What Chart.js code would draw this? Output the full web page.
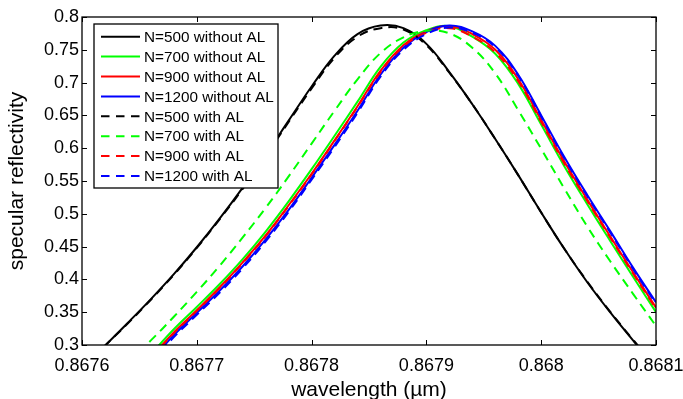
<!DOCTYPE html>
<html>
<head>
<meta charset="utf-8">
<script src="https://cdn.jsdelivr.net/npm/chart.js@4/dist/chart.umd.min.js"></script>
<style>
  html, body { margin: 0; padding: 0; background: #fff; }
  #wrap { width: 683px; height: 399px; }
</style>
</head>
<body>
<div id="wrap"><canvas id="c" width="683" height="399"></canvas></div>
<script>
// ---- data ----
const wavelengths = [0.8676, 0.86762, 0.86764, 0.86766, 0.86768, 0.8677, 0.86772, 0.86774, 0.86776, 0.86778,
  0.8678, 0.86782, 0.86784, 0.86786, 0.86788, 0.8679, 0.86792, 0.86794, 0.86796, 0.86798,
  0.868, 0.86802, 0.86804, 0.86806, 0.86808, 0.8681];

const n500NoAL = [0.265, 0.299, 0.334, 0.370, 0.408, 0.449, 0.493, 0.540, 0.590, 0.642, 0.694, 0.741, 0.774,
  0.787, 0.783, 0.759, 0.716, 0.667, 0.614, 0.559, 0.502, 0.447, 0.396, 0.350, 0.307, 0.266];
const n700NoAL = [null, null, null, 0.286, 0.324, 0.358, 0.393, 0.431, 0.473, 0.519, 0.568, 0.619, 0.671,
  0.724, 0.761, 0.780, 0.786, 0.770, 0.744, 0.698, 0.636, 0.573, 0.515, 0.459, 0.404, 0.350];
const n900NoAL = [null, null, null, 0.281, 0.319, 0.353, 0.388, 0.426, 0.467, 0.513, 0.561, 0.612, 0.664,
  0.718, 0.757, 0.778, 0.786, 0.774, 0.750, 0.705, 0.643, 0.580, 0.522, 0.466, 0.411, 0.357];
const n1200NoAL = [null, null, null, 0.276, 0.315, 0.349, 0.383, 0.420, 0.461, 0.506, 0.555, 0.605, 0.657,
  0.712, 0.753, 0.777, 0.787, 0.778, 0.756, 0.712, 0.650, 0.587, 0.529, 0.474, 0.418, 0.365];
const n500AL = [0.265, 0.299, 0.333, 0.369, 0.407, 0.448, 0.492, 0.538, 0.588, 0.640, 0.691, 0.738, 0.770,
  0.783, 0.781, 0.757, 0.715, 0.667, 0.614, 0.559, 0.502, 0.447, 0.397, 0.351, 0.308, 0.267];
const n700AL = [null, null, 0.273, 0.307, 0.343, 0.381, 0.421, 0.464, 0.509, 0.557, 0.607, 0.657, 0.705,
  0.745, 0.769, 0.779, 0.775, 0.753, 0.714, 0.658, 0.599, 0.539, 0.481, 0.428, 0.378, 0.329];
const n900AL = [null, null, null, 0.280, 0.318, 0.352, 0.387, 0.425, 0.466, 0.512, 0.560, 0.611, 0.663,
  0.716, 0.755, 0.776, 0.783, 0.770, 0.746, 0.702, 0.640, 0.577, 0.520, 0.464, 0.409, 0.355];
const n1200AL = [null, null, null, 0.273, 0.312, 0.346, 0.380, 0.417, 0.458, 0.503, 0.552, 0.602, 0.654,
  0.709, 0.750, 0.774, 0.784, 0.776, 0.754, 0.710, 0.648, 0.585, 0.527, 0.472, 0.416, 0.363];

const seriesLabels = ['N=500 without AL', 'N=700 without AL', 'N=900 without AL', 'N=1200 without AL',
  'N=500 with AL', 'N=700 with AL', 'N=900 with AL', 'N=1200 with AL'];
const seriesValues = [n500NoAL, n700NoAL, n900NoAL, n1200NoAL, n500AL, n700AL, n900AL, n1200AL];
const seriesColors = ['#000000', '#00ff00', '#ff0000', '#0000ff', '#000000', '#00ff00', '#ff0000', '#0000ff'];
const seriesDashed = [false, false, false, false, true, true, true, true];

const xTickValues = [0.8676, 0.8677, 0.8678, 0.8679, 0.868, 0.8681];
const xTickLabels = ['0.8676', '0.8677', '0.8678', '0.8679', '0.868', '0.8681'];
const yTickValues = [0.3, 0.35, 0.4, 0.45, 0.5, 0.55, 0.6, 0.65, 0.7, 0.75, 0.8];
const yTickLabels = ['0.3', '0.35', '0.4', '0.45', '0.5', '0.55', '0.6', '0.65', '0.7', '0.75', '0.8'];

const DASH = [9, 6];
const FONT = '"Liberation Sans", Arial, Helvetica, sans-serif';

const datasets = seriesValues.map((vals, i) => ({
  label: seriesLabels[i],
  data: wavelengths.map((w, j) => ({ x: w, y: vals[j] })),
  borderColor: seriesColors[i],
  backgroundColor: seriesColors[i],
  borderWidth: 2,
  borderDash: seriesDashed[i] ? DASH : [],
  pointRadius: 0,
  fill: false,
  tension: 0.4,
  spanGaps: false,
  clip: 0,
  order: seriesValues.length - i
}));

function zeroPad(s) { s.paddingLeft = 0; s.paddingRight = 0; s.paddingTop = 0; s.paddingBottom = 0; }

const frameAndLegend = {
  id: 'frameAndLegend',
  afterDraw(chart) {
    const ctx = chart.ctx;
    const a = chart.chartArea;
    const xs = chart.scales.x, ys = chart.scales.y;
    ctx.save();
    ctx.strokeStyle = '#000';
    ctx.lineWidth = 1.3;
    ctx.strokeRect(a.left, a.top, a.right - a.left, a.bottom - a.top);
    ctx.lineWidth = 1;
    const TL = 5;
    ctx.beginPath();
    xTickValues.forEach(v => {
      const p = Math.round(xs.getPixelForValue(v)) + 0.5;
      ctx.moveTo(p, a.bottom); ctx.lineTo(p, a.bottom - TL);
      ctx.moveTo(p, a.top); ctx.lineTo(p, a.top + TL);
    });
    yTickValues.forEach(v => {
      const p = Math.round(ys.getPixelForValue(v)) + 0.5;
      ctx.moveTo(a.left, p); ctx.lineTo(a.left + TL, p);
      ctx.moveTo(a.right, p); ctx.lineTo(a.right - TL, p);
    });
    ctx.stroke();

    // legend box inside the plot area
    const bx = 94, by = 24, bw = 184, bh = 164;
    ctx.fillStyle = '#fff';
    ctx.fillRect(bx, by, bw, bh);
    ctx.lineWidth = 1.3;
    ctx.strokeStyle = '#000';
    ctx.strokeRect(bx, by, bw, bh);
    ctx.font = '15.3px ' + FONT;
    ctx.textBaseline = 'middle';
    ctx.textAlign = 'left';
    chart.data.datasets.forEach((ds, i) => {
      const yc = 36.7 + i * 19.9;
      ctx.strokeStyle = ds.borderColor;
      ctx.lineWidth = 2;
      ctx.setLineDash(ds.borderDash.length ? [8.5, 6.5] : []);
      ctx.beginPath();
      ctx.moveTo(101, yc); ctx.lineTo(140, yc);
      ctx.stroke();
      ctx.setLineDash([]);
      ctx.fillStyle = '#000';
      ctx.fillText(ds.label, 144, yc + 1);
    });
    ctx.restore();
  }
};

new Chart(document.getElementById('c'), {
  type: 'line',
  data: { datasets },
  options: {
    responsive: false,
    animation: false,
    devicePixelRatio: 1,
    layout: { padding: { left: 0, right: 27, top: 17, bottom: 0 } },
    plugins: { legend: { display: false }, tooltip: { enabled: false } },
    scales: {
      x: {
        type: 'linear',
        min: 0.8676, max: 0.8681,
        afterBuildTicks: s => { s.ticks = xTickValues.map(v => ({ value: v })); },
        afterFit: s => { s.height = 54; zeroPad(s); },
        grid: { display: false, drawTicks: false },
        border: { display: false },
        ticks: {
          autoSkip: false, maxRotation: 0, padding: 10,
          color: '#000', font: { size: 18, family: FONT },
          callback: (v, i) => xTickLabels[i]
        },
        title: { display: true, text: 'wavelength (\u00b5m)', color: '#000', font: { size: 21, family: FONT }, padding: { top: 0, bottom: -4 } }
      },
      y: {
        min: 0.3, max: 0.8,
        afterBuildTicks: s => { s.ticks = yTickValues.map(v => ({ value: v })); },
        afterFit: s => { s.width = 82; zeroPad(s); },
        grid: { display: false, drawTicks: false },
        border: { display: false },
        ticks: {
          autoSkip: false, padding: 3,
          color: '#000', font: { size: 18, family: FONT },
          callback: (v, i) => yTickLabels[i]
        },
        title: { display: true, text: 'specular reflectivity', color: '#000', font: { size: 21, family: FONT }, padding: { top: 4.5, bottom: 0 } }
      }
    }
  },
  plugins: [frameAndLegend]
});
</script>
</body>
</html>
